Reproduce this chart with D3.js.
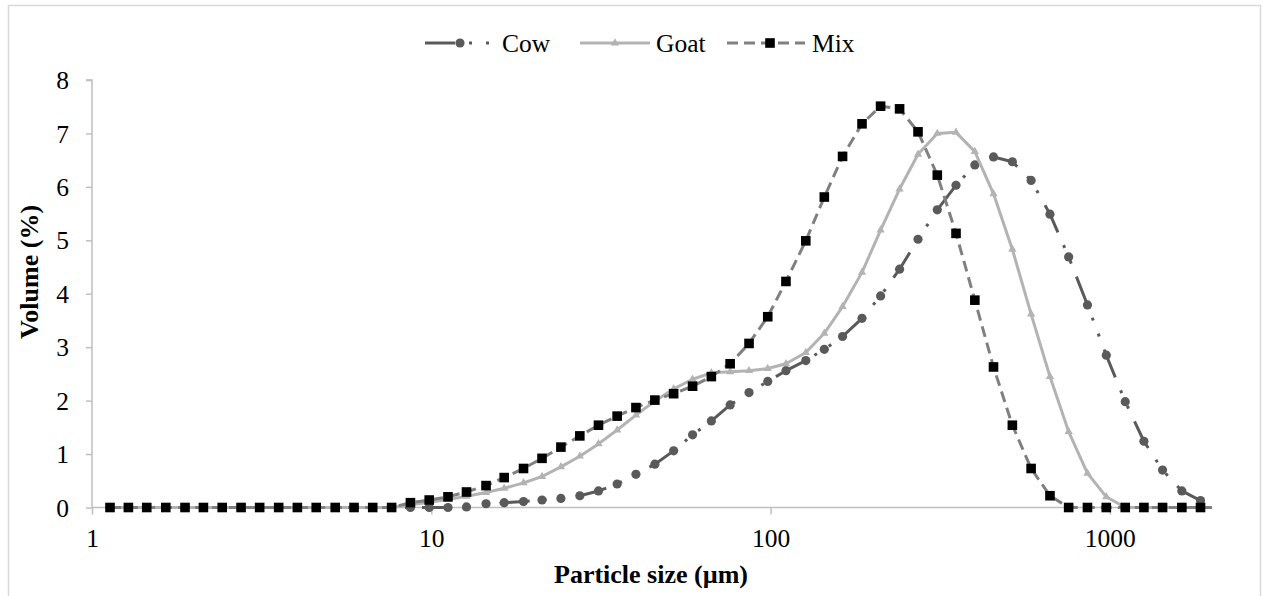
<!DOCTYPE html>
<html>
<head>
<meta charset="utf-8">
<script src="https://cdn.jsdelivr.net/npm/d3@7"></script>
<style>
  html, body { margin: 0; padding: 0; background: #fff; }
  svg { display: block; }
  svg text { font-family: "Liberation Serif", "Times New Roman", "DejaVu Serif", serif !important; fill: #000; }
</style>
</head>
<body>
<svg id="chart" width="1263" height="596"></svg>
<script>
// Particle size bins (µm)
const sizes = [1.13, 1.28, 1.45, 1.65, 1.88, 2.13, 2.42, 2.75, 3.12, 3.55, 4.03, 4.58, 5.21, 5.92, 6.72, 7.64,
  8.68, 9.86, 11.2, 12.7, 14.5, 16.4, 18.7, 21.2, 24.1, 27.4, 31.1, 35.3, 40.1, 45.6, 51.8, 58.9, 66.9, 76, 86.4, 98.1,
  111, 127, 144, 163, 186, 211, 240, 272, 310, 352, 400, 454, 516, 586, 666, 756, 859, 976,
  1110, 1260, 1430, 1630, 1850, 2100];

const cow = [0,0,0,0,0,0,0,0,0,0,0,0,0,0,0,0,
  0, 0, 0, 0.01, 0.07, 0.09, 0.11, 0.14, 0.17, 0.22, 0.31, 0.44, 0.62, 0.81, 1.06, 1.36, 1.62, 1.92, 2.15, 2.36,
  2.56, 2.75, 2.96, 3.20, 3.54, 3.96, 4.46, 5.02, 5.57, 6.03, 6.41, 6.56, 6.47, 6.12, 5.49, 4.69, 3.79, 2.85,
  1.98, 1.24, 0.70, 0.31, 0.13, 0];

const goat = [0,0,0,0,0,0,0,0,0,0,0,0,0,0,0,0,
  0.05, 0.10, 0.15, 0.21, 0.28, 0.36, 0.46, 0.58, 0.76, 0.96, 1.19, 1.45, 1.73, 1.99, 2.22, 2.40, 2.52, 2.54, 2.56, 2.60,
  2.69, 2.90, 3.26, 3.76, 4.40, 5.19, 5.96, 6.61, 7.00, 7.02, 6.66, 5.87, 4.83, 3.62, 2.45, 1.42, 0.64, 0.20,
  0, 0, 0, 0, 0, 0];

const mix = [0,0,0,0,0,0,0,0,0,0,0,0,0,0,0,0,
  0.09, 0.14, 0.20, 0.29, 0.41, 0.56, 0.73, 0.92, 1.13, 1.34, 1.54, 1.71, 1.87, 2.01, 2.13, 2.27, 2.45, 2.69, 3.07, 3.57,
  4.23, 4.99, 5.81, 6.57, 7.18, 7.51, 7.46, 7.03, 6.22, 5.13, 3.88, 2.63, 1.54, 0.73, 0.22, 0, 0, 0,
  0, 0, 0, 0, 0, 0];

const seriesNames = ["Cow", "Goat", "Mix"];
const xTicks = [1, 10, 100, 1000];
const xTickLabels = ["1", "10", "100", "1000"];
const yTicks = [0, 1, 2, 3, 4, 5, 6, 7, 8];
const xTitle = "Particle size (µm)";
const yTitle = "Volume (%)";

// ---- layout / styles ----
const FONT = "'Liberation Serif', 'Times New Roman', 'DejaVu Serif', serif";
const svg = d3.select("#chart");
const L = 92, R = 1212, T = 80, B = 507.5;
const x = d3.scaleLog().domain([1, 2000]).range([L, R]);
const y = d3.scaleLinear().domain([0, 8]).range([B, T]);

const styles = {
  Cow:  { stroke: "#5a5a5a", width: 3, dash: "30,14,3,14,3,14", marker: "circle", fill: "#5a5a5a" },
  Goat: { stroke: "#b3b3b3", width: 3, dash: null, marker: "triangle", fill: "#b3b3b3" },
  Mix:  { stroke: "#808080", width: 3, dash: "11,6", marker: "square", fill: "#000000" }
};
const seriesData = { Cow: cow, Goat: goat, Mix: mix };

// outer border
svg.append("rect").attr("x", 8.5).attr("y", 5.5).attr("width", 1252).attr("height", 620)
  .attr("fill", "none").attr("stroke", "#d9d9d9").attr("stroke-width", 1.5);

// clip
svg.append("defs").append("clipPath").attr("id", "clip")
  .append("rect").attr("x", 0).attr("y", 0).attr("width", R).attr("height", 596);

// axes
const yAxis = d3.axisLeft(y).tickValues(yTicks).tickSize(6).tickPadding(17).tickFormat(d3.format("d"));
const gy = svg.append("g").attr("transform", `translate(${L},0)`).call(yAxis)
  .attr("font-family", null).attr("font-size", null);
gy.select(".domain").attr("stroke", "#bfbfbf").attr("stroke-width", 1.5).attr("d", `M-6,${T}H0V${B}`);
gy.selectAll(".tick line").attr("stroke", "#bfbfbf").attr("stroke-width", 1.5);
gy.selectAll(".tick text").style("font-family", FONT).style("font-size", "25.5px").attr("dy", "0.34em");

const xAxis = d3.axisBottom(x).tickValues(xTicks).tickSize(7).tickPadding(15)
  .tickFormat((d, i) => xTickLabels[i]);
const gx = svg.append("g").attr("transform", `translate(0,${B})`).call(xAxis)
  .attr("font-family", null).attr("font-size", null);
gx.select(".domain").attr("stroke", "#bfbfbf").attr("stroke-width", 1.5).attr("d", `M${L},0H${R}`);
gx.selectAll(".tick line").attr("stroke", "#bfbfbf").attr("stroke-width", 1.5);
gx.selectAll(".tick text").style("font-family", FONT).style("font-size", "25.5px").attr("dy", "0.7em");

// axis titles
svg.append("text").attr("x", 651).attr("y", 583).attr("text-anchor", "middle")
  .style("font-family", FONT).style("font-size", "26px").style("font-weight", "bold").text(xTitle);
svg.append("text").attr("transform", "translate(38,272) rotate(-90)").attr("text-anchor", "middle")
  .style("font-family", FONT).style("font-size", "26px").style("font-weight", "bold").text(yTitle);

// marker drawing
function drawMarker(g, type, cx, cy, fill) {
  if (type === "circle") {
    g.append("circle").attr("cx", cx).attr("cy", cy).attr("r", 4.6).attr("fill", fill);
  } else if (type === "square") {
    g.append("rect").attr("x", cx - 4.8).attr("y", cy - 4.8).attr("width", 9.6).attr("height", 9.6).attr("fill", fill);
  } else {
    g.append("path").attr("d", d3.symbol().type(d3.symbolTriangle).size(30)())
      .attr("transform", `translate(${cx},${cy})`).attr("fill", fill);
  }
}

const plot = svg.append("g").attr("clip-path", "url(#clip)");
const line = d3.line().x((d, i) => x(sizes[i])).y(d => y(d));

seriesNames.forEach(name => {
  const st = styles[name];
  const vals = seriesData[name];
  const g = plot.append("g");
  g.append("path").datum(vals).attr("d", line).attr("fill", "none")
    .attr("stroke", st.stroke).attr("stroke-width", st.width)
    .attr("stroke-dasharray", st.dash).attr("stroke-linejoin", "round");
  vals.forEach((v, i) => {
    if (sizes[i] <= 2000) drawMarker(g, st.marker, x(sizes[i]), y(v), st.fill);
  });
});

// legend
const legendItems = [
  { name: "Cow", x0: 425, x1: 495, tx: 502 },
  { name: "Goat", x0: 580, x1: 650, tx: 656 },
  { name: "Mix", x0: 727, x1: 805, tx: 812 }
];
const lg = svg.append("g");
legendItems.forEach(it => {
  const st = styles[it.name];
  const ly = 43;
  lg.append("line").attr("x1", it.x0).attr("x2", it.x1).attr("y1", ly).attr("y2", ly)
    .attr("stroke", st.stroke).attr("stroke-width", st.width).attr("stroke-dasharray", st.dash);
  drawMarker(lg, st.marker, (it.x0 + it.x1) / 2 - (it.name === "Mix" ? -4 : 0), ly, st.fill);
  lg.append("text").attr("x", it.tx).attr("y", ly).attr("dy", "0.35em")
    .style("font-family", FONT).style("font-size", "25.5px").text(it.name);
});
</script>
</body>
</html>
